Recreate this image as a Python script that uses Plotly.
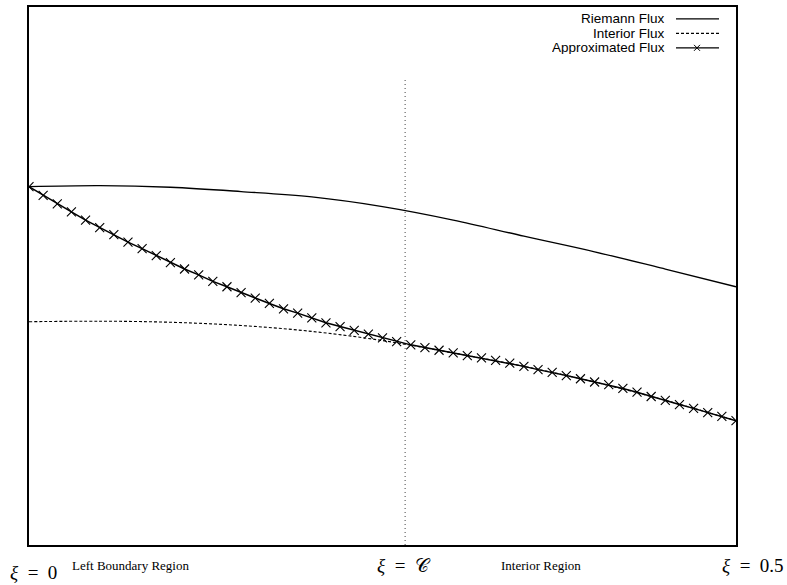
import plotly.graph_objects as go

# ---- data (flux in arbitrary units, xi in [0, 0.5]) ----
xi_curve = [0.0, 0.05, 0.10, 0.15, 0.20, 0.25, 0.30, 0.35, 0.40, 0.45, 0.50]
riemann_flux = [0.666, 0.668, 0.665, 0.657, 0.647, 0.629, 0.604, 0.574, 0.545, 0.513, 0.480]
interior_flux = [0.415, 0.416, 0.414, 0.408, 0.397, 0.380, 0.357, 0.332, 0.303, 0.269, 0.231]

xi_approx = [i * 0.01 for i in range(51)]
approx_flux = [0.666, 0.650, 0.634, 0.619, 0.604, 0.590, 0.577, 0.563, 0.551, 0.538,
               0.525, 0.513, 0.502, 0.490, 0.480, 0.469, 0.459, 0.449, 0.439, 0.431,
               0.422, 0.413, 0.406, 0.399, 0.392, 0.385, 0.378, 0.372, 0.367, 0.362,
               0.357, 0.352, 0.348, 0.343, 0.338, 0.332, 0.326, 0.321, 0.315, 0.309,
               0.303, 0.298, 0.291, 0.284, 0.276, 0.269, 0.261, 0.254, 0.246, 0.239,
               0.231]

xi_C = 0.266
divider_y = [0.0, 0.866]

series_names = ["Riemann Flux", "Interior Flux", "Approximated Flux"]

fig = go.Figure()
fig.add_trace(go.Scatter(x=xi_curve, y=riemann_flux, mode="lines", line_shape="spline",
                         line=dict(color="black", width=1.3), name=series_names[0]))
fig.add_trace(go.Scatter(x=xi_curve, y=interior_flux, mode="lines", line_shape="spline",
                         line=dict(color="black", width=1.1, dash="3px,2px"), name=series_names[1]))
fig.add_trace(go.Scatter(x=[xi_C, xi_C], y=divider_y, mode="lines",
                         line=dict(color="#444", width=1, dash="1px,3px"), showlegend=False))
fig.add_trace(go.Scatter(x=xi_approx, y=approx_flux, mode="lines+markers",
                         line=dict(color="black", width=1.5),
                         marker=dict(symbol="x-thin", size=9, line=dict(color="black", width=1.1)),
                         name=series_names[2]))

W, H = 787, 585
L, R, T, B = 29, 51, 5, 40
pw, ph = W - L - R, H - T - B


def px(x):
    return (x - L) / pw


def py(y):
    return (H - B - y) / ph


legend_font = dict(family="Liberation Sans, Arial, sans-serif", size=13.5, color="black")
leg_y = [17, 31.5, 46]
annotations = []
shapes = []
for name, yy in zip(series_names, leg_y):
    annotations.append(dict(x=px(667), y=py(yy), xref="paper", yref="paper", text=name,
                            showarrow=False, xanchor="right", yanchor="middle", height=13,
                            font=legend_font))
shapes.append(dict(type="line", xref="paper", yref="paper", x0=px(676), x1=px(719),
                   y0=py(leg_y[0]), y1=py(leg_y[0]), line=dict(color="black", width=1.2)))
shapes.append(dict(type="line", xref="paper", yref="paper", x0=px(676), x1=px(719),
                   y0=py(leg_y[1]), y1=py(leg_y[1]), line=dict(color="black", width=1.1, dash="3px,2px")))
shapes.append(dict(type="line", xref="paper", yref="paper", x0=px(676), x1=px(719),
                   y0=py(leg_y[2]), y1=py(leg_y[2]), line=dict(color="black", width=1.2)))
for dx0, dy0, dx1, dy1 in [(-3, -3, 3, 3), (-3, 3, 3, -3)]:
    shapes.append(dict(type="line", xref="paper", yref="paper", xsizemode="pixel", ysizemode="pixel",
                       xanchor=px(697), yanchor=py(leg_y[2]), x0=dx0, x1=dx1, y0=dy0, y1=dy1,
                       line=dict(color="black", width=1)))

serif = "Liberation Serif, Times New Roman, DejaVu Serif, serif"
sp = "\u00a0\u00a0"
bottom = [
    ("<i>ξ</i>" + sp + "=" + sp + "0", 8, 573, "left", 19),
    ("Left Boundary Region", 130, 566, "center", 13),
    ("<i>ξ</i>" + sp + "=" + sp + "𝒞", 404, 566, "center", 19),
    ("Interior Region", 541, 566, "center", 13),
    ("<i>ξ</i>" + sp + "=" + sp + "0.5", 786, 566, "right", 19),
]
for txt, xx, yy, anc, sz in bottom:
    annotations.append(dict(x=px(xx), y=py(yy), xref="paper", yref="paper", text=txt,
                            showarrow=False, xanchor=anc, yanchor="middle",
                            font=dict(family=serif, size=sz, color="black")))

fig.update_layout(
    width=W, height=H,
    margin=dict(l=L, r=R, t=T, b=B),
    paper_bgcolor="white", plot_bgcolor="white",
    showlegend=False,
    annotations=annotations, shapes=shapes,
    xaxis=dict(range=[0, 0.5], showgrid=False, zeroline=False, showticklabels=False, ticks="",
               showline=True, mirror=True, linecolor="black", linewidth=1.5),
    yaxis=dict(range=[0, 1], showgrid=False, zeroline=False, showticklabels=False, ticks="",
               showline=True, mirror=True, linecolor="black", linewidth=1.5),
)

fig.write_html("out.html")
